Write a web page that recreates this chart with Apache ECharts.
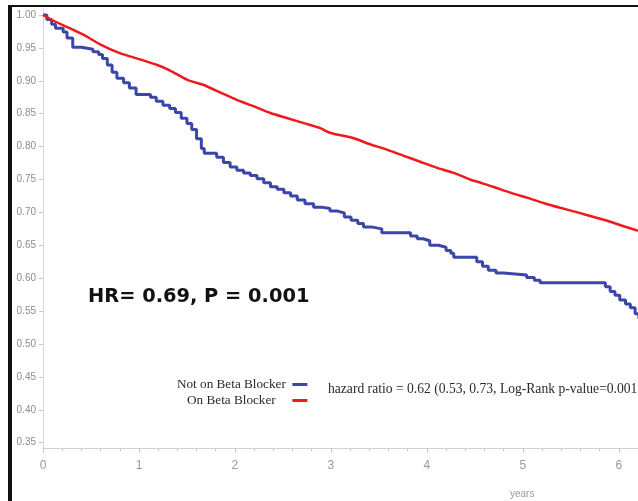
<!DOCTYPE html>
<html>
<head>
<meta charset="utf-8">
<script src="https://cdn.jsdelivr.net/npm/echarts@6/dist/echarts.min.js"></script>
<style>
  html, body { margin: 0; padding: 0; background: #ffffff; }
  #chart { width: 638px; height: 501px; }
</style>
</head>
<body>
<div id="chart"></div>
<script>
// Kaplan-Meier survival estimates, time in years
const notOnBBTimes = [0, 0.04, 0.09, 0.13, 0.21, 0.25, 0.31, 0.40, 0.52, 0.58, 0.62, 0.67, 0.72, 0.77, 0.84, 0.90, 0.97, 1.12, 1.18, 1.25, 1.32, 1.38, 1.44, 1.50, 1.55, 1.60, 1.65, 1.68, 1.81, 1.88, 1.95, 2.02, 2.09, 2.16, 2.23, 2.30, 2.37, 2.44, 2.51, 2.58, 2.65, 2.73, 2.82, 2.90, 2.99, 3.07, 3.14, 3.21, 3.28, 3.34, 3.42, 3.53, 3.83, 3.90, 3.96, 4.03, 4.12, 4.20, 4.25, 4.28, 4.52, 4.58, 4.64, 4.72, 4.80, 5.04, 5.12, 5.18, 5.86, 5.91, 5.96, 6.01, 6.07, 6.12, 6.17, 6.21];
const notOnBBSurv  = [1.000, 0.993, 0.986, 0.980, 0.974, 0.965, 0.951, 0.948, 0.944, 0.940, 0.934, 0.924, 0.913, 0.904, 0.897, 0.889, 0.879, 0.875, 0.869, 0.863, 0.858, 0.852, 0.843, 0.835, 0.826, 0.812, 0.797, 0.790, 0.784, 0.776, 0.769, 0.764, 0.760, 0.756, 0.751, 0.745, 0.739, 0.735, 0.730, 0.725, 0.719, 0.713, 0.708, 0.706, 0.702, 0.699, 0.693, 0.688, 0.683, 0.678, 0.675, 0.669, 0.664, 0.660, 0.657, 0.650, 0.647, 0.642, 0.638, 0.632, 0.625, 0.618, 0.612, 0.608, 0.605, 0.601, 0.597, 0.593, 0.587, 0.580, 0.574, 0.567, 0.561, 0.555, 0.546, 0.538];

const onBBTimes = [0, 0.10, 0.20, 0.42, 0.60, 0.80, 1.00, 1.19, 1.32, 1.51, 1.67, 1.85, 2.02, 2.20, 2.37, 2.55, 2.71, 2.89, 2.99, 3.23, 3.40, 3.59, 3.76, 3.93, 4.10, 4.28, 4.45, 4.56, 4.69, 4.87, 5.05, 5.22, 5.39, 5.57, 5.74, 5.95, 6.20];
const onBBSurv  = [1.000, 0.992, 0.985, 0.970, 0.955, 0.942, 0.933, 0.924, 0.916, 0.901, 0.894, 0.882, 0.871, 0.861, 0.851, 0.843, 0.836, 0.828, 0.821, 0.813, 0.804, 0.795, 0.786, 0.777, 0.768, 0.760, 0.750, 0.745, 0.739, 0.730, 0.722, 0.714, 0.707, 0.700, 0.693, 0.684, 0.672];

const yTicks = [0.35, 0.40, 0.45, 0.50, 0.55, 0.60, 0.65, 0.70, 0.75, 0.80, 0.85, 0.90, 0.95, 1.00];

const seriesNames = ['Not on Beta Blocker', 'On Beta Blocker'];
const hrNote = 'HR= 0.69, P = 0.001';
const testNote = 'hazard ratio = 0.62 (0.53, 0.73, Log-Rank p-value=0.001';
const xTitle = 'years';

const zip = (xs, ys) => xs.map((x, i) => [x, ys[i]]);

const chart = echarts.init(document.getElementById('chart'), null, { renderer: 'canvas' });

chart.setOption({
  animation: false,
  backgroundColor: '#ffffff',
  grid: { left: 43, right: 0, top: 8.4, bottom: 53, containLabel: false, outerBoundsMode: 'none' },
  xAxis: {
    type: 'value',
    min: 0,
    max: 6.2,
    interval: 1,
    axisLine: { show: true, lineStyle: { color: '#d2d2d2', width: 1 } },
    axisTick: { show: true, length: 5, lineStyle: { color: '#c8c8c8' } },
    minorTick: { show: true, splitNumber: 5, length: 3, lineStyle: { color: '#c8c8c8' } },
    splitLine: { show: false },
    axisLabel: {
      margin: 12,
      showMaxLabel: false,
      color: '#9a9a9a',
      fontFamily: 'Liberation Sans',
      fontSize: 12
    }
  },
  yAxis: {
    type: 'value',
    min: 0.342,
    max: 1.01,
    axisLine: { show: true, lineStyle: { color: '#cfcfcf', type: 'dotted', width: 1 } },
    axisTick: { show: true, length: 4, customValues: yTicks, lineStyle: { color: '#c8c8c8' } },
    splitLine: { show: false },
    axisLabel: {
      customValues: yTicks,
      margin: 7,
      color: '#8c8c8c',
      fontFamily: 'Liberation Sans',
      fontSize: 10,
      formatter: v => v.toFixed(2)
    }
  },
  legend: {
    orient: 'vertical',
    left: 172,
    top: 373,
    align: 'right',
    itemWidth: 15,
    itemHeight: 3,
    itemGap: 3,
    icon: 'rect',
    data: seriesNames,
    formatter: name => '{t|' + name + '}',
    textStyle: {
      rich: {
        t: {
          width: 112,
          align: 'center',
          fontFamily: 'Liberation Serif',
          fontSize: 13.2,
          color: '#2a2a2a'
        }
      }
    }
  },
  graphic: [
    {
      type: 'text',
      left: 88,
      top: 287,
      style: {
        text: hrNote,
        font: 'bold 19.4px "DejaVu Sans"',
        fill: '#111111'
      }
    },
    {
      type: 'text',
      left: 328,
      top: 382,
      style: {
        text: testNote,
        font: '13.6px "Liberation Serif"',
        fill: '#2a2a2a'
      }
    },
    {
      type: 'text',
      left: 510,
      top: 489,
      style: {
        text: xTitle,
        font: '10px "Liberation Sans"',
        fill: '#9a9a9a'
      }
    },
    // outer frame on the left and top edges
    { type: 'rect', z: 100, shape: { x: 8, y: 5, width: 4, height: 496 }, style: { fill: '#111111' } },
    { type: 'rect', z: 100, shape: { x: 8, y: 5, width: 630, height: 2 }, style: { fill: '#111111' } }
  ],
  series: [
    {
      name: seriesNames[0],
      type: 'line',
      step: 'end',
      symbol: 'none',
      data: zip(notOnBBTimes, notOnBBSurv),
      lineStyle: { color: '#3c46a8', width: 3 },
      itemStyle: { color: '#3c46a8' },
      z: 3
    },
    {
      name: seriesNames[1],
      type: 'line',
      symbol: 'none',
      smooth: 0.25,
      data: zip(onBBTimes, onBBSurv),
      lineStyle: { color: '#f0191e', width: 2.5 },
      itemStyle: { color: '#f0191e' },
      z: 4
    }
  ]
});
</script>
</body>
</html>
